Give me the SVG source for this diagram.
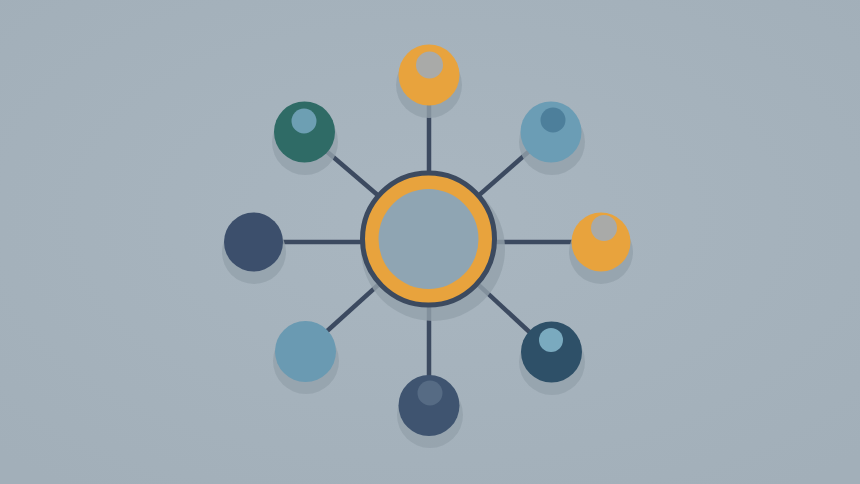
<svg xmlns="http://www.w3.org/2000/svg" width="860" height="484" viewBox="0 0 860 484">
<defs>
<radialGradient id="bg" cx="50%" cy="45%" r="70%">
<stop offset="0" stop-color="#a9b6c0"/>
<stop offset="1" stop-color="#a2afb9"/>
</radialGradient>
<style>
.spoke{stroke:#3c4a60;stroke-width:4.5;stroke-linecap:butt;fill:none}
.shadow{fill:#94a1ab;opacity:0.8}
</style>
</defs>
<rect width="860" height="484" fill="url(#bg)"/>
<g id="connectors">
<line class="spoke" x1="429" y1="239" x2="429" y2="100"/>
<line class="spoke" x1="429" y1="239" x2="551" y2="132"/>
<line class="spoke" x1="429" y1="242" x2="601" y2="242"/>
<line class="spoke" x1="429" y1="239" x2="551" y2="352"/>
<line class="spoke" x1="429" y1="239" x2="429" y2="405"/>
<line class="spoke" x1="429" y1="239" x2="305" y2="351"/>
<line class="spoke" x1="429" y1="242" x2="253" y2="242"/>
<line class="spoke" x1="429" y1="239" x2="304" y2="132"/>
</g>
<g id="hub">
<circle class="shadow" cx="433" cy="249" r="72"/>
<circle cx="428.5" cy="239" r="66" fill="#e8a33d" stroke="#3c4a5f" stroke-width="5"/>
<circle cx="428.5" cy="239" r="50" fill="#8fa5b3"/>
</g>
<g id="node-top">
<circle class="shadow" cx="429" cy="85" r="33"/>
<circle cx="429" cy="75" r="30.5" fill="#e8a33d"/>
<circle cx="429.5" cy="65" r="13.5" fill="#a9aaa8"/>
</g>
<g id="node-top-right">
<circle class="shadow" cx="552" cy="142" r="33"/>
<circle cx="551" cy="132" r="30.5" fill="#6b9db5"/>
<circle cx="553" cy="120" r="12.5" fill="#4d7f9b"/>
</g>
<g id="node-right">
<circle class="shadow" cx="601" cy="252" r="32"/>
<circle cx="601" cy="242" r="29.5" fill="#e8a33d"/>
<circle cx="604" cy="228" r="13" fill="#a9aaa8"/>
</g>
<g id="node-bottom-right">
<circle class="shadow" cx="552" cy="362" r="33"/>
<circle cx="551.5" cy="352" r="30.5" fill="#2e5068"/>
<circle cx="551" cy="340" r="12" fill="#7aaabf"/>
</g>
<g id="node-bottom">
<circle class="shadow" cx="430" cy="415" r="33"/>
<circle cx="429" cy="405.5" r="30.5" fill="#3f5470"/>
<circle cx="430" cy="393" r="12.5" fill="#566b84"/>
</g>
<g id="node-bottom-left">
<circle class="shadow" cx="306" cy="361" r="33"/>
<circle cx="305.5" cy="351.5" r="30.5" fill="#6a9ab2"/>
</g>
<g id="node-left">
<circle class="shadow" cx="254" cy="252" r="32"/>
<circle cx="253.5" cy="242" r="29.5" fill="#3c4f6c"/>
</g>
<g id="node-top-left">
<circle class="shadow" cx="305" cy="142" r="33"/>
<circle cx="304.5" cy="132" r="30.5" fill="#2f6b66"/>
<circle cx="304" cy="121" r="12.5" fill="#6d9fb3"/>
</g>
</svg>
